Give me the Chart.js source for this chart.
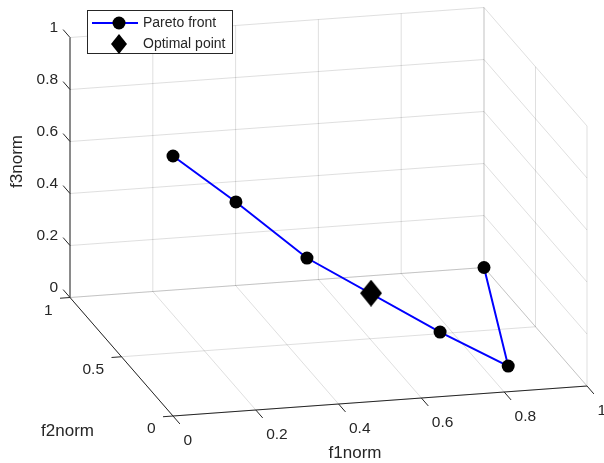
<!DOCTYPE html>
<html>
<head>
<meta charset="utf-8">
<script src="https://cdn.jsdelivr.net/npm/chart.js@4.4.0/dist/chart.umd.min.js"></script>
<style>
  html, body { margin: 0; padding: 0; background: #fff; }
  #wrap { width: 604px; height: 463px; }
</style>
</head>
<body>
<div id="wrap"><canvas id="chart" width="604" height="463"></canvas></div>
<script>
// Pareto front, normalised objectives
const f1 = [0, 0.157, 0.336, 0.670, 0.847, 1];
const f2 = [0, 0.02, 0.05, 0.10, 0.15, 1];
const f3 = [1, 0.796, 0.546, 0.200, 0.026, 0];

// optimal point
const optF1 = [0.497];
const optF2 = [0.075];
const optF3 = [0.381];

// ticks
const f1Ticks = [0, 0.2, 0.4, 0.6, 0.8, 1];
const f2Ticks = [0, 0.5, 1];
const f3Ticks = [0, 0.2, 0.4, 0.6, 0.8, 1];
const f1TickLabels = ["0", "0.2", "0.4", "0.6", "0.8", "1"];
const f2TickLabels = ["0", "0.5", "1"];
const f3TickLabels = ["0", "0.2", "0.4", "0.6", "0.8", "1"];

const seriesNames = ["Pareto front", "Optimal point"];
const axisTitles = ["f1norm", "f2norm", "f3norm"];

// 3d view: screen vector (x right, y up) of one unit along each axis
const E1 = [414, 30];
const E2 = [-103, 118.5];
const E3 = [0, 260];
const ORIGIN = [173, 416]; // where (0,0,0) sits on the canvas

const FONT = "'Liberation Sans', Arial, Helvetica, sans-serif";
const AXIS_COLOR = "#262626";
const GRID_COLOR = "rgba(38,38,38,0.15)";

function proj(a, b, c) {
  return {
    x: a * E1[0] + b * E2[0] + c * E3[0],
    y: a * E1[1] + b * E2[1] + c * E3[1]
  };
}

function diamond(w, h) {
  const c = document.createElement("canvas");
  c.width = w;
  c.height = h;
  const g = c.getContext("2d");
  g.fillStyle = "#000";
  g.beginPath();
  g.moveTo(w / 2, 0);
  g.lineTo(w, h / 2);
  g.lineTo(w / 2, h);
  g.lineTo(0, h / 2);
  g.closePath();
  g.fill();
  return c;
}

const frontData = f1.map((v, i) => proj(v, f2[i], f3[i]));
const optData = optF1.map((v, i) => proj(v, optF2[i], optF3[i]));

const box3d = {
  id: "box3d",
  beforeDatasetsDraw(chart) {
    const ctx = chart.ctx;
    const xs = chart.scales.x, ys = chart.scales.y;
    const px = (a, b, c) => {
      const p = proj(a, b, c);
      return [xs.getPixelForValue(p.x), ys.getPixelForValue(p.y)];
    };
    const seg = (p, q) => {
      ctx.beginPath();
      ctx.moveTo(p[0], p[1]);
      ctx.lineTo(q[0], q[1]);
      ctx.stroke();
    };
    ctx.save();
    ctx.lineWidth = 1;

    // grid on the back walls and floor
    ctx.strokeStyle = GRID_COLOR;
    f1Ticks.forEach(t => seg(px(t, 1, 0), px(t, 1, 1)));
    f3Ticks.forEach(t => seg(px(0, 1, t), px(1, 1, t)));
    f2Ticks.forEach(t => seg(px(1, t, 0), px(1, t, 1)));
    f3Ticks.forEach(t => seg(px(1, 0, t), px(1, 1, t)));
    f1Ticks.forEach(t => seg(px(t, 0, 0), px(t, 1, 0)));
    f2Ticks.forEach(t => seg(px(0, t, 0), px(1, t, 0)));

    // axis lines
    ctx.strokeStyle = AXIS_COLOR;
    seg(px(0, 1, 0), px(0, 1, 1));
    seg(px(0, 0, 0), px(0, 1, 0));
    seg(px(0, 0, 0), px(1, 0, 0));

    // tick directions on screen
    const n2 = Math.hypot(E2[0], E2[1]), n1 = Math.hypot(E1[0], E1[1]);
    const d3 = [E2[0] / n2 * 10.5, -E2[1] / n2 * 10.5];
    const d2 = [-E1[0] / n1 * 10, E1[1] / n1 * 10];
    const d1 = [-E2[0] / n2 * 10.5, E2[1] / n2 * 10.5];

    ctx.fillStyle = AXIS_COLOR;
    ctx.font = "15.5px " + FONT;
    ctx.textBaseline = "alphabetic";

    ctx.textAlign = "right";
    f3Ticks.forEach((t, i) => {
      const p = px(0, 1, t), q = [p[0] + d3[0], p[1] + d3[1]];
      seg(p, q);
      ctx.fillText(f3TickLabels[i], q[0] - 5, q[1] + 2.5);
    });
    f2Ticks.forEach((t, i) => {
      const p = px(0, t, 0), q = [p[0] + d2[0], p[1] + d2[1]];
      seg(p, q);
      ctx.fillText(f2TickLabels[i], q[0] - 7.5, q[1] + 16.5);
    });
    ctx.textAlign = "left";
    f1Ticks.forEach((t, i) => {
      const p = px(t, 0, 0), q = [p[0] + d1[0], p[1] + d1[1]];
      seg(p, q);
      ctx.fillText(f1TickLabels[i], q[0] + 3.5, q[1] + 21.5);
    });

    // axis titles
    ctx.font = "17px " + FONT;
    ctx.textAlign = "center";
    ctx.fillText(axisTitles[0], 355, 458);
    ctx.fillText(axisTitles[1], 67.5, 436);
    ctx.translate(17, 161.5);
    ctx.rotate(-Math.PI / 2);
    ctx.textBaseline = "middle";
    ctx.fillText(axisTitles[2], 0, 0);
    ctx.restore();
  },
  afterDraw(chart) {
    const ctx = chart.ctx;
    ctx.save();
    // legend box
    ctx.fillStyle = "#fff";
    ctx.fillRect(87, 10, 145, 43);
    ctx.strokeStyle = AXIS_COLOR;
    ctx.lineWidth = 1;
    ctx.strokeRect(87.5, 10.5, 145, 43);

    ctx.strokeStyle = "#0000ff";
    ctx.lineWidth = 2;
    ctx.beginPath();
    ctx.moveTo(92, 23);
    ctx.lineTo(138, 23);
    ctx.stroke();
    ctx.fillStyle = "#000";
    ctx.beginPath();
    ctx.arc(119, 23, 6.5, 0, Math.PI * 2);
    ctx.fill();
    ctx.drawImage(diamond(16, 20), 111, 34);

    ctx.fillStyle = AXIS_COLOR;
    ctx.font = "14px " + FONT;
    ctx.textAlign = "left";
    ctx.textBaseline = "middle";
    ctx.fillText(seriesNames[0], 143, 23);
    ctx.fillText(seriesNames[1], 143, 44);
    ctx.restore();
  }
};

new Chart(document.getElementById("chart"), {
  type: "scatter",
  data: {
    datasets: [
      {
        label: seriesNames[1],
        data: optData,
        pointStyle: diamond(22, 27),
        pointRadius: 12,
        showLine: false
      },
      {
        label: seriesNames[0],
        data: frontData,
        showLine: true,
        borderColor: "#0000ff",
        borderWidth: 2,
        pointRadius: 6.5,
        pointBorderWidth: 0,
        pointBackgroundColor: "#000",
        pointBorderColor: "#000"
      }
    ]
  },
  options: {
    responsive: false,
    animation: false,
    events: [],
    clip: false,
    layout: { padding: 0, autoPadding: false },
    scales: {
      x: { type: "linear", display: false, min: -ORIGIN[0], max: 604 - ORIGIN[0] },
      y: { type: "linear", display: false, min: ORIGIN[1] - 463, max: ORIGIN[1] }
    },
    plugins: {
      legend: { display: false },
      tooltip: { enabled: false }
    }
  },
  plugins: [box3d]
});
</script>
</body>
</html>
